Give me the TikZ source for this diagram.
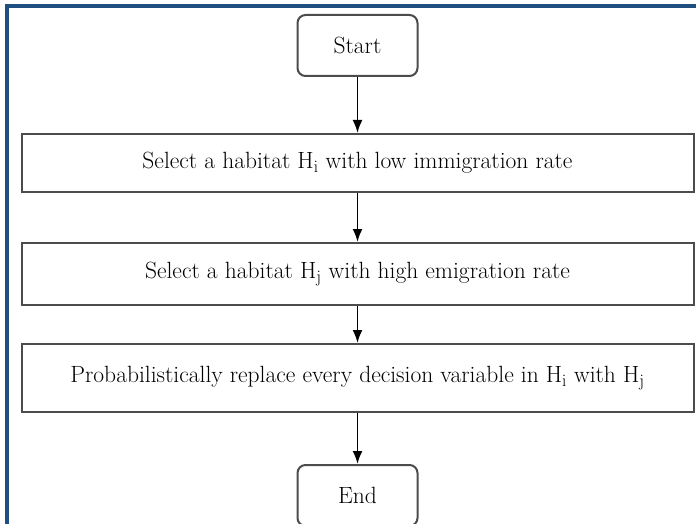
\documentclass[tikz,border=0pt]{standalone}
\usepackage{tikz}
\usetikzlibrary{positioning,arrows.meta}
\definecolor{framecol}{RGB}{31,78,128}
\newcommand{\hab}[1]{H$_{\mathrm{#1}}$}

\begin{document}
\begin{tikzpicture}[x=1pt,y=1pt,
  every node/.style={font=\fontsize{23.5}{27}\selectfont},
  termbox/.style={draw=black!70, line width=2pt, rounded corners=8pt,
    minimum width=120pt, minimum height=61pt, inner sep=0pt},
  stepbox/.style={draw=black!70, line width=2pt,
    minimum width=672pt, inner sep=0pt},
  flow/.style={-{Latex[length=13pt,width=10pt]}, line width=1.8pt, black}]
  \useasboundingbox (0,0) rectangle (696,-524);
  \draw[framecol, line width=4pt] (7,-524) -- (7,-6) -- (696,-6);

  \node (start) [termbox] at (357.5,-45.5) {Start};

  \node (lowimm) [stepbox, minimum height=58pt, below = 56pt of start] {Select a habitat \hab{i} with low immigration rate};

  \node (highemi) [stepbox, minimum height=62pt, below = 49pt of lowimm] {Select a habitat \hab{j} with high emigration rate};

  \node (replace) [stepbox, minimum height=68pt, below = 37pt of highemi] {Probabilistically replace every decision variable in \hab{i} with \hab{j}};

  \node (end) [termbox, below = 51pt of replace] {End};

  \draw [flow] (start) -- (lowimm);
  \draw [flow] (lowimm) -- (highemi);
  \draw [flow] (highemi) -- (replace);
  \draw [flow] (replace) -- (end);

\end{tikzpicture}
\end{document}
